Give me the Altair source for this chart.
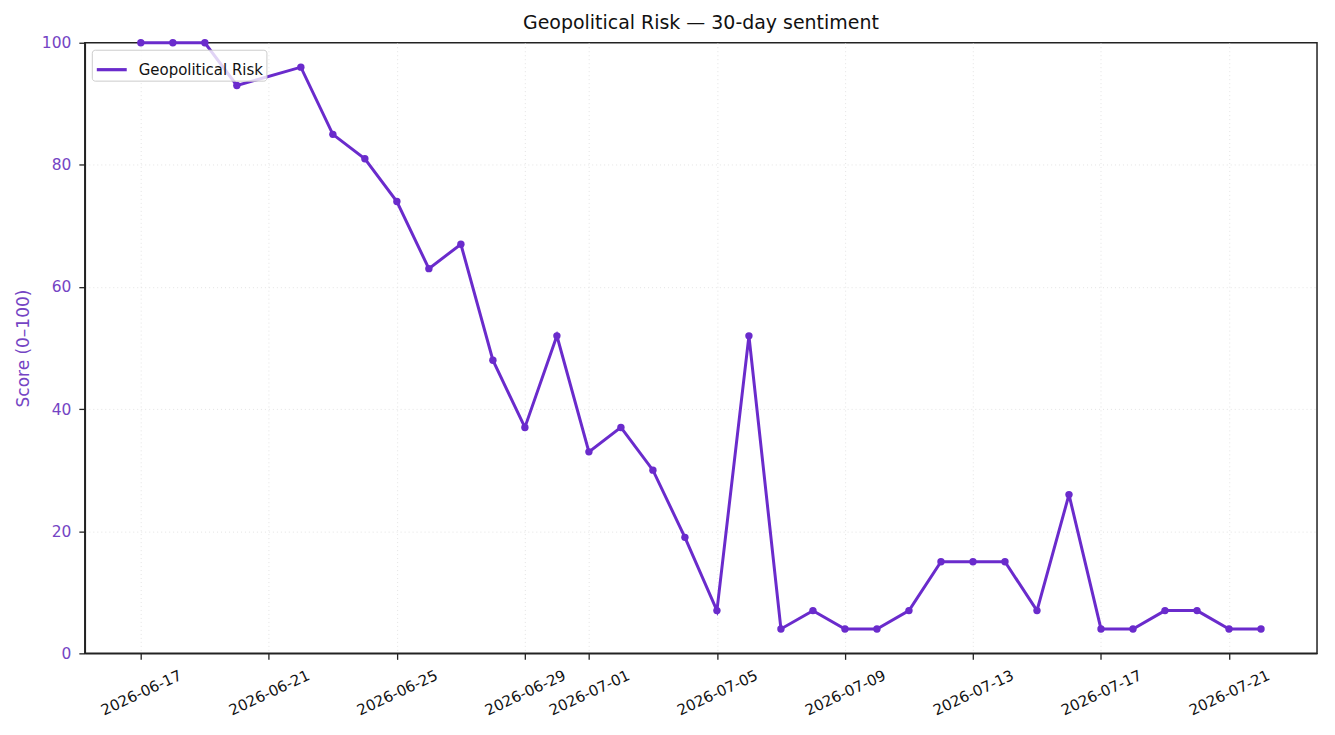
import pandas as pd
import altair as alt

# daily sentiment scores (06-21 has no reading)
dates = ["2026-06-17", "2026-06-18", "2026-06-19", "2026-06-20", "2026-06-22", "2026-06-23",
         "2026-06-24", "2026-06-25", "2026-06-26", "2026-06-27", "2026-06-28", "2026-06-29",
         "2026-06-30", "2026-07-01", "2026-07-02", "2026-07-03", "2026-07-04", "2026-07-05",
         "2026-07-06", "2026-07-07", "2026-07-08", "2026-07-09", "2026-07-10", "2026-07-11",
         "2026-07-12", "2026-07-13", "2026-07-14", "2026-07-15", "2026-07-16", "2026-07-17",
         "2026-07-18", "2026-07-19", "2026-07-20", "2026-07-21", "2026-07-22"]
scores = [100, 100, 100, 93, 96, 85, 81, 74, 63, 67, 48, 37, 52, 33, 37, 30, 19, 7,
          52, 4, 7, 4, 4, 7, 15, 15, 15, 7, 26, 4, 4, 7, 7, 4, 4]
series_name = "Geopolitical Risk"

# tick dates shown on the x axis: (month, day)
tick_days = [(6, 17), (6, 21), (6, 25), (6, 29), (7, 1), (7, 5), (7, 9), (7, 13), (7, 17), (7, 21)]
y_ticks = [0, 20, 40, 60, 80, 100]

df = pd.DataFrame({"date": dates, "score": scores, "series": series_name})

line_color = "#6a2bcc"
label_color = "#7444c4"
font = "DejaVu Sans"

x_ticks = [alt.DateTime(year=2026, month=m, date=d, utc=True) for m, d in tick_days]
x_domain = [alt.DateTime(year=2026, month=6, date=15, hours=6, utc=True),
            alt.DateTime(year=2026, month=7, date=23, hours=18, utc=True)]

chart = alt.Chart(df).mark_line(
    strokeWidth=3,
    point=alt.OverlayMarkDef(filled=True, size=55, opacity=1)
).encode(
    x=alt.X("date:T",
            scale=alt.Scale(type="utc", domain=x_domain),
            axis=alt.Axis(values=x_ticks, labelExpr="utcFormat(datum.value, '%Y-%m-%d')",
                          title=None, labelAngle=335, labelAlign="center",
                          labelBaseline="middle", labelPadding=33, labelOverlap=False,
                          labelFontSize=15)),
    y=alt.Y("score:Q",
            scale=alt.Scale(domain=[0, 100], nice=False, zero=False),
            axis=alt.Axis(values=y_ticks, title="Score (0–100)",
                          labelColor=label_color, titleColor=label_color,
                          labelPadding=8, titlePadding=9,
                          gridOpacity=alt.condition("datum.value >= 100 || datum.value <= 0",
                                                    alt.value(0), alt.value(1)))),
    color=alt.Color("series:N",
                    scale=alt.Scale(domain=[series_name], range=[line_color]),
                    legend=alt.Legend(title=None, orient="top-left", offset=7,
                                      symbolType="stroke", symbolStrokeWidth=3.2,
                                      symbolSize=900, labelFontSize=15, labelFont=font,
                                      labelColor="#111111", labelOffset=10, padding=3,
                                      fillColor="rgba(255,255,255,0.8)", strokeColor="#cccccc",
                                      cornerRadius=3)),
    tooltip=["date:T", "score:Q"]
).properties(
    width=1235,
    height=612,
    autosize=alt.AutoSizeParams(type="none"),
    padding={"left": 77, "top": 34, "right": 10, "bottom": 75},
    title=alt.TitleParams("Geopolitical Risk — 30-day sentiment", fontSize=19,
                          fontWeight="normal", font=font, color="#111111",
                          anchor="middle", offset=3)
).configure_view(
    stroke="#222222", strokeWidth=1.5
).configure_axis(
    labelFont=font, titleFont=font, labelFontSize=15.5, titleFontSize=17,
    titleFontWeight="normal", domainColor="#222222", domainWidth=1.5,
    tickColor="#222222", tickSize=6, tickWidth=1.3, labelColor="#111111",
    gridColor="#dddddd", gridDash=[1, 3], gridWidth=0.8
)

chart.save("out.html", embed_options={"renderer": "svg", "actions": False})
